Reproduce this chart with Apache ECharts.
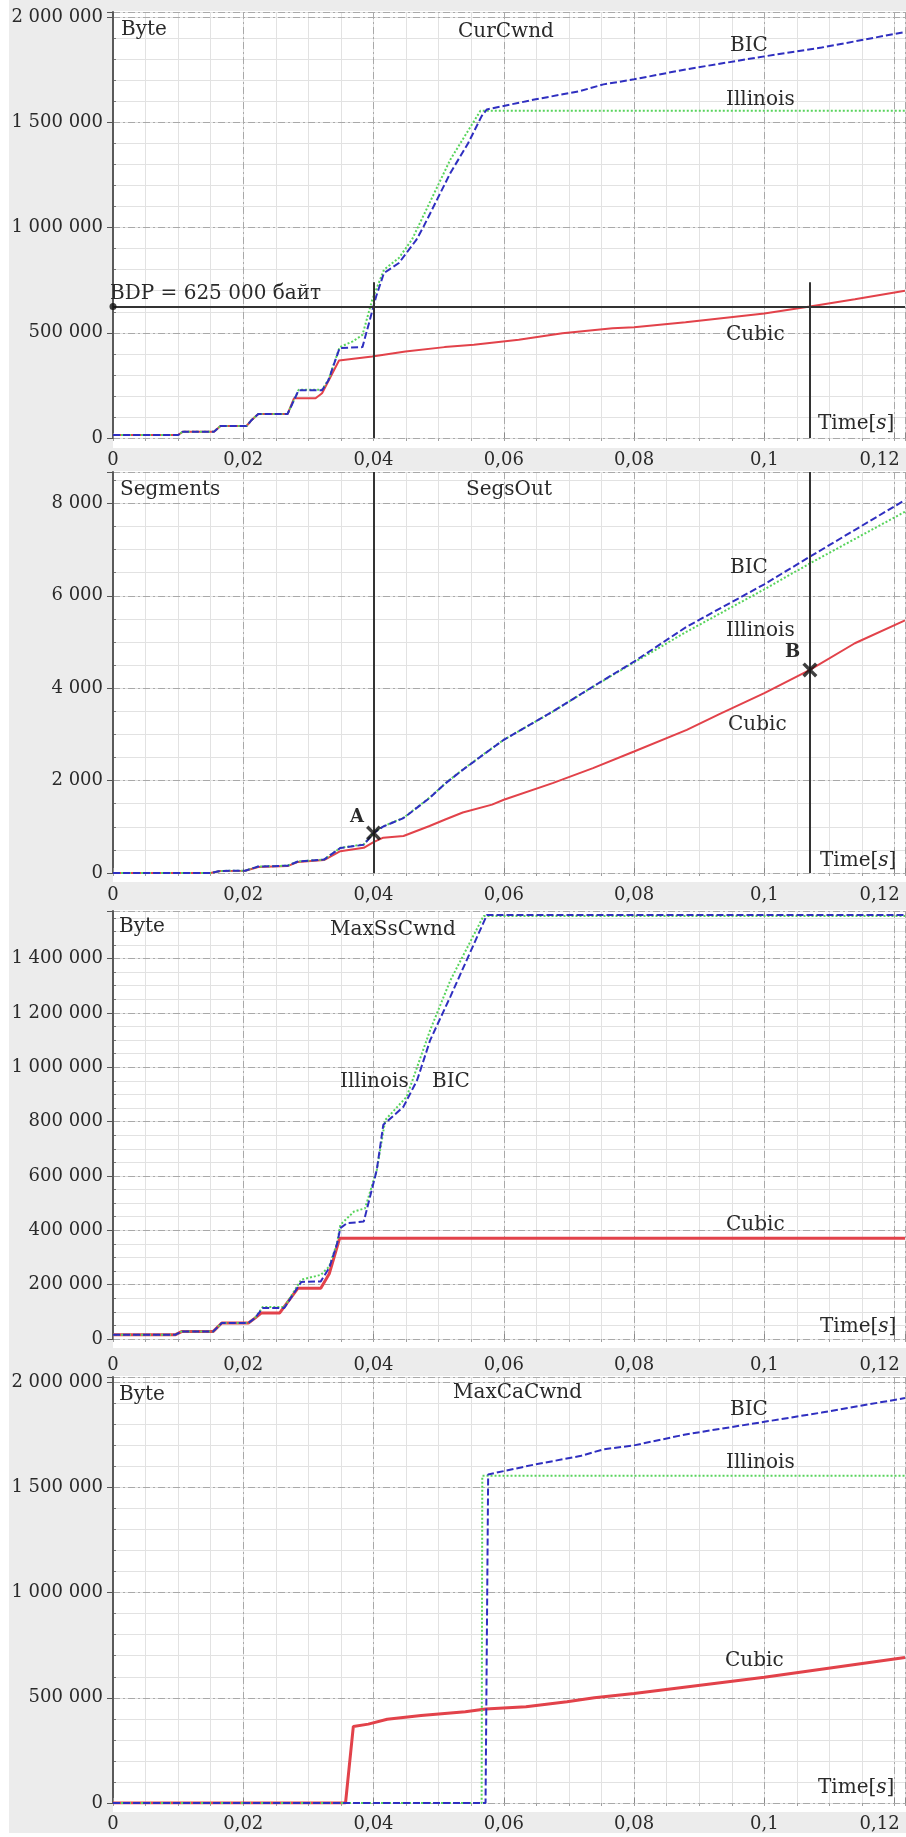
<!DOCTYPE html>
<html><head><meta charset="utf-8">
<script src="https://cdn.jsdelivr.net/npm/echarts@6/dist/echarts.min.js"></script>
<style>html,body{margin:0;padding:0;background:#fff;}#c{width:906px;height:1837px;}</style>
</head><body><div id="c"></div>
<script>
// ---------------- DATA ----------------
// Panel 1: CurCwnd (Byte)
const cwndBicT = [0, 0.0100, 0.0107, 0.0155, 0.0165, 0.0205, 0.0213, 0.0223, 0.0268, 0.0285, 0.0321, 0.0331, 0.0338, 0.0348, 0.0383, 0.0393, 0.0404, 0.0416, 0.0439, 0.0466, 0.0477, 0.0518, 0.0545, 0.0566, 0.0574, 0.0649, 0.0717, 0.0753, 0.08, 0.0879, 0.1, 0.1088, 0.1216];
const cwndBicV = [14000, 14000, 30000, 30000, 57000, 57000, 86000, 114000, 114000, 227000, 227000, 276000, 340000, 428000, 432000, 546000, 673000, 784000, 832000, 943000, 1006000, 1260000, 1400000, 1530000, 1562000, 1610000, 1649000, 1681000, 1705000, 1752000, 1814000, 1856000, 1930000];
const cwndIllT = [0, 0.0100, 0.0107, 0.0155, 0.0165, 0.0205, 0.0213, 0.0223, 0.0268, 0.0285, 0.0321, 0.0331, 0.0338, 0.0348, 0.0368, 0.0383, 0.0398, 0.0416, 0.0439, 0.0459, 0.0518, 0.0564, 0.1216];
const cwndIllV = [14000, 14000, 30000, 30000, 57000, 57000, 86000, 114000, 114000, 229000, 229000, 278000, 342000, 432000, 459000, 490000, 657000, 800000, 856000, 943000, 1324000, 1555000, 1555000];
const cwndCubT = [0, 0.0100, 0.0107, 0.0155, 0.0165, 0.0205, 0.0213, 0.0223, 0.0268, 0.0278, 0.0311, 0.0321, 0.0347, 0.0398, 0.0449, 0.0509, 0.0554, 0.0623, 0.069, 0.0767, 0.08, 0.0879, 0.1, 0.107, 0.1139, 0.1216];
const cwndCubV = [14000, 14000, 30000, 30000, 57000, 57000, 86000, 114000, 114000, 189000, 189000, 213000, 368000, 387000, 411000, 432000, 443000, 467000, 498000, 522000, 526000, 550000, 592000, 625000, 660000, 700000];
const bdpValue = 625000;
const markTimes = [0.04, 0.107];
const markTopCwnd = 740000;

// Panel 2: SegsOut (Segments)
const segT = [0, 0.015, 0.0165, 0.0203, 0.0223, 0.0268, 0.0284, 0.0324, 0.0349, 0.0385, 0.04, 0.0415, 0.0446, 0.0486, 0.0511, 0.0537, 0.0582, 0.06, 0.0675, 0.0737, 0.08, 0.0881, 0.1, 0.107, 0.1216];
const segBicV = [0, 0, 45, 50, 140, 158, 250, 290, 540, 612, 865, 1007, 1189, 1621, 1946, 2233, 2700, 2883, 3495, 4036, 4576, 5333, 6250, 6847, 8072];
const segIllV = [0, 0, 45, 50, 140, 158, 250, 290, 545, 620, 870, 1010, 1195, 1630, 1950, 2240, 2705, 2885, 3490, 4030, 4560, 5225, 6140, 6702, 7820];
const segCubT = [0, 0.015, 0.0165, 0.0203, 0.0223, 0.0268, 0.0284, 0.0324, 0.0349, 0.0385, 0.04, 0.0415, 0.0446, 0.0486, 0.0511, 0.0537, 0.0582, 0.06, 0.0675, 0.0737, 0.08, 0.0881, 0.0931, 0.1, 0.107, 0.1139, 0.1216];
const segCubV = [0, 0, 45, 50, 130, 150, 240, 280, 473, 545, 669, 764, 800, 1018, 1164, 1309, 1480, 1586, 1946, 2270, 2631, 3099, 3440, 3892, 4396, 4973, 5470];
const pointA = [0.04, 865];
const pointB = [0.107, 4396];

// Panel 3: MaxSsCwnd (Byte)
const ssBicT = [0, 0.0096, 0.0106, 0.0154, 0.0167, 0.0208, 0.0218, 0.023, 0.0263, 0.0289, 0.0319, 0.0332, 0.0344, 0.0349, 0.0359, 0.0385, 0.0405, 0.0415, 0.0446, 0.0467, 0.0487, 0.0518, 0.0574, 0.1216];
const ssBicV = [16000, 16000, 28000, 28000, 59000, 59000, 77000, 114000, 114000, 210000, 212000, 262000, 350000, 408000, 426000, 432000, 622000, 788000, 855000, 953000, 1100000, 1260000, 1560000, 1560000];
const ssIllT = [0, 0.0096, 0.0106, 0.0154, 0.0167, 0.0208, 0.0218, 0.023, 0.0263, 0.0289, 0.0319, 0.0332, 0.0344, 0.0349, 0.037, 0.0387, 0.0405, 0.0418, 0.0451, 0.0487, 0.0518, 0.0569, 0.1216];
const ssIllV = [16000, 16000, 28000, 28000, 59000, 59000, 77000, 118000, 118000, 218000, 236000, 267000, 353000, 420000, 469000, 481000, 622000, 806000, 892000, 1137000, 1320000, 1557000, 1557000];
const ssCubT = [0, 0.0096, 0.0106, 0.0154, 0.0167, 0.0208, 0.0218, 0.0228, 0.0256, 0.0284, 0.0319, 0.0332, 0.0348, 0.1216];
const ssCubV = [16000, 16000, 28000, 28000, 59000, 59000, 77000, 96000, 96000, 187000, 187000, 240000, 371000, 371000];

// Panel 4: MaxCaCwnd (Byte)
const caBicT = [0, 0.0572, 0.0576, 0.0649, 0.0717, 0.0753, 0.08, 0.0879, 0.1, 0.1088, 0.1216];
const caBicV = [0, 0, 1562000, 1610000, 1649000, 1681000, 1700000, 1752000, 1812000, 1856000, 1925000];
const caIllT = [0, 0.0566, 0.0567, 0.1216];
const caIllV = [0, 0, 1555000, 1555000];
const caCubT = [0, 0.0357, 0.0369, 0.0392, 0.0421, 0.0473, 0.0541, 0.0572, 0.0634, 0.0697, 0.0739, 0.08, 0.1, 0.1216];
const caCubV = [0, 0, 364000, 375000, 398000, 416000, 434000, 447000, 458000, 481000, 500000, 520000, 598000, 692000];

// Axis tick settings
const xMax = 0.1216, xStep = 0.02, xMinorStep = 0.005;
const yMaxes = [2025000, 8680, 1575000, 2025000];
const ySteps = [500000, 2000, 200000, 500000];
const yMinorSteps = [100000, 500, 50000, 100000];
const panelTitles = ['CurCwnd', 'SegsOut', 'MaxSsCwnd', 'MaxCaCwnd'];
const unitLabels = ['Byte', 'Segments', 'Byte', 'Byte'];

// ---------------- LAYOUT / STYLE ----------------
const FONT = '"DejaVu Serif", "Liberation Serif", serif';
const COL = { cubic: '#e2424a', ill: '#58d45c', bic: '#2f2fc0' };
const layout = [
  { top: 12, height: 426, off: 10, lm: 3 },
  { top: 472, height: 401, off: 9, lm: 4 },
  { top: 911, height: 428, off: 9, lm: 8 },
  { top: 1377, height: 426, off: 9, lm: 3 }
];
const GL = 113, GW = 792;

function pairs(t, v) { return t.map((x, i) => [x, v[i]]); }
function fmtX(v) {
  const r = Math.round(v / xStep);
  if (Math.abs(v - r * xStep) > 1e-7) return '';
  const s = String(+(r * xStep).toFixed(2)).replace('.', ',');
  return r === 6 ? '{e|' + s + '}' : s;
}
function fmtY(step) {
  return function (v) {
    const r = Math.round(v / step);
    if (Math.abs(v - r * step) > 1e-6 * step) return '';
    return String(r * step).replace(/\B(?=(\d{3})+(?!\d))/g, ' ');
  };
}

const grids = [], xAxes = [], yAxes = [], series = [];
const majorSplit = { show: true, lineStyle: { color: '#a9a9a9', width: 1, type: [7, 3, 2, 3] } };
const minorSplit = { show: true, lineStyle: { color: '#e2e2e2', width: 1, type: 'solid' } };
const labelFont = { fontFamily: FONT, fontSize: 18, color: '#2a2a2a' };

layout.forEach((L, i) => {
  grids.push({ left: GL, top: L.top, width: GW, height: L.height, show: false, outerBoundsMode: 'none', containLabel: false });
  xAxes[i] = {
    type: 'value', gridIndex: i, min: 0, max: xMax, interval: xStep, offset: L.off, z: 3,
    axisLine: { show: false },
    axisTick: { show: true, inside: true, length: 5, lineStyle: { color: '#8a8a8a', width: 1 } },
    axisLabel: Object.assign({ margin: L.lm, formatter: fmtX, showMinLabel: true, showMaxLabel: true,
      rich: { e: { padding: [0, 30, 0, 0], fontFamily: FONT, fontSize: 18, color: '#2a2a2a' } } }, labelFont),
    splitLine: majorSplit
  };
  xAxes[4 + i] = {
    type: 'value', gridIndex: i, min: 0, max: xMax, interval: xMinorStep, offset: L.off, z: 1,
    axisLine: { show: false },
    axisTick: { show: true, inside: true, length: 3, lineStyle: { color: '#a0a0a0', width: 1 } },
    axisLabel: { show: false },
    splitLine: minorSplit
  };
  yAxes[i] = {
    type: 'value', gridIndex: i, min: 0, max: yMaxes[i], interval: ySteps[i], z: 3,
    axisLine: { show: true, lineStyle: { color: '#5a5a5a', width: 2 } },
    axisTick: { show: true, length: 6, lineStyle: { color: '#555', width: 1 } },
    axisLabel: Object.assign({ margin: 10, formatter: fmtY(ySteps[i]), padding: [8, 0, 0, 0], showMinLabel: true, showMaxLabel: true }, labelFont),
    splitLine: majorSplit
  };
  yAxes[4 + i] = {
    type: 'value', gridIndex: i, min: 0, max: yMaxes[i], interval: yMinorSteps[i], z: 1,
    axisLine: { show: false },
    axisTick: { show: true, length: 3, lineStyle: { color: '#777', width: 1 } },
    axisLabel: { show: false },
    splitLine: minorSplit
  };
});

function lineSeries(name, idx, data, kind, w) {
  const ls = { width: w || 2, color: COL[kind] };
  if (kind === 'bic') ls.type = [7, 3];
  if (kind === 'ill') ls.type = [2, 2];
  return { name, type: 'line', xAxisIndex: idx, yAxisIndex: idx, data, showSymbol: false, symbol: 'none',
    lineStyle: ls, itemStyle: { color: COL[kind] }, z: 3, clip: true, animation: false };
}

const sets = [
  [pairs(cwndCubT, cwndCubV), pairs(cwndIllT, cwndIllV), pairs(cwndBicT, cwndBicV)],
  [pairs(segCubT, segCubV), pairs(segT, segIllV), pairs(segT, segBicV)],
  [pairs(ssCubT, ssCubV), pairs(ssIllT, ssIllV), pairs(ssBicT, ssBicV)],
  [pairs(caCubT, caCubV), pairs(caIllT, caIllV), pairs(caBicT, caBicV)]
];
sets.forEach((s, i) => {
  const redW = i >= 2 ? 3 : 2;
  series.push(lineSeries('Cubic', i, s[0], 'cubic', redW));
  series.push(lineSeries('Illinois', i, s[1], 'ill', 2));
  series.push(lineSeries('BIC', i, s[2], 'bic', 2));
});

const markLineStyle = { color: '#333', width: 2, type: 'solid' };
// BDP dot + BDP line + vertical markers in panel 1
series.push({
  type: 'scatter', xAxisIndex: 0, yAxisIndex: 0, data: [[0, bdpValue]], symbolSize: 7, clip: false,
  itemStyle: { color: '#111' }, z: 5, silent: true,
  markLine: {
    silent: true, symbol: ['none', 'none'], label: { show: false }, lineStyle: markLineStyle, animation: false,
    data: [
      { yAxis: bdpValue },
      [{ coord: [markTimes[0], markTopCwnd] }, { coord: [markTimes[0], 0] }],
      [{ coord: [markTimes[1], markTopCwnd] }, { coord: [markTimes[1], 0] }]
    ]
  }
});
// X markers A, B + vertical lines in panel 2
const xPath = 'path://M0,1.6L1.6,0L5,3.4L8.4,0L10,1.6L6.6,5L10,8.4L8.4,10L5,6.6L1.6,10L0,8.4L3.4,5Z';
series.push({
  type: 'scatter', xAxisIndex: 1, yAxisIndex: 1, data: [pointA, pointB], symbol: xPath, symbolSize: 15, clip: false,
  itemStyle: { color: '#111' }, z: 6, silent: true,
  markLine: {
    silent: true, symbol: ['none', 'none'], label: { show: false }, lineStyle: markLineStyle, animation: false,
    data: [
      [{ coord: [markTimes[0], 0] }, { coord: [markTimes[0], yMaxes[1]] }],
      [{ coord: [markTimes[1], 0] }, { coord: [markTimes[1], yMaxes[1]] }]
    ]
  }
});

// ---------------- ANNOTATION TEXT ----------------
function txt(x, y, text, opts) {
  const st = Object.assign({ text, fontFamily: FONT, fontSize: 20, fill: '#2a2a2a', align: 'left', verticalAlign: 'middle' }, opts || {});
  return { type: 'text', x, y, z: 100, silent: true, style: st };
}
function timeTxt(x, y) {
  return txt(x, y, 'Time[{i|s}]', { rich: { i: { fontStyle: 'italic', fontFamily: FONT, fontSize: 20, fill: '#2a2a2a' } } });
}
const graphics = [
  { type: 'rect', z: -10, silent: true, shape: { x: 9, y: 0, width: 897, height: 1833 }, style: { fill: '#ececec' } },
  { type: 'rect', z: -9, silent: true, shape: { x: 113, y: 11, width: 793, height: 437 }, style: { fill: '#fff' } },
  { type: 'rect', z: -9, silent: true, shape: { x: 113, y: 471, width: 793, height: 411 }, style: { fill: '#fff' } },
  { type: 'rect', z: -9, silent: true, shape: { x: 113, y: 910, width: 793, height: 438 }, style: { fill: '#fff' } },
  { type: 'rect', z: -9, silent: true, shape: { x: 113, y: 1376, width: 793, height: 436 }, style: { fill: '#fff' } },
  // panel 1
  txt(121, 30, unitLabels[0]), txt(458, 32, panelTitles[0]),
  txt(730, 46, 'BIC'), txt(726, 100, 'Illinois'), txt(726, 335, 'Cubic'), timeTxt(818, 424),
  txt(110, 294, 'BDP = 625 000 байт'),
  // panel 2
  txt(120, 490, unitLabels[1]), txt(466, 490, panelTitles[1]),
  txt(730, 568, 'BIC'), txt(726, 631, 'Illinois'), txt(728, 725, 'Cubic'), timeTxt(820, 861),
  txt(350, 817, 'A', { fontWeight: 'bold', fontSize: 18 }), txt(785, 652, 'B', { fontWeight: 'bold', fontSize: 18 }),
  // panel 3
  txt(119, 927, unitLabels[2]), txt(330, 930, panelTitles[2]),
  txt(340, 1082, 'Illinois'), txt(432, 1082, 'BIC'), txt(726, 1225, 'Cubic'), timeTxt(820, 1327),
  // panel 4
  txt(119, 1395, unitLabels[3]), txt(453, 1393, panelTitles[3]),
  txt(730, 1410, 'BIC'), txt(726, 1463, 'Illinois'), txt(725, 1661, 'Cubic'), timeTxt(818, 1788)
];

const chart = echarts.init(document.getElementById('c'), null, { renderer: 'canvas', width: 906, height: 1837 });
chart.setOption({
  animation: false,
  backgroundColor: '#ffffff',
  grid: grids,
  xAxis: xAxes,
  yAxis: yAxes,
  series: series,
  graphic: { elements: graphics }
});
</script>
</body></html>
